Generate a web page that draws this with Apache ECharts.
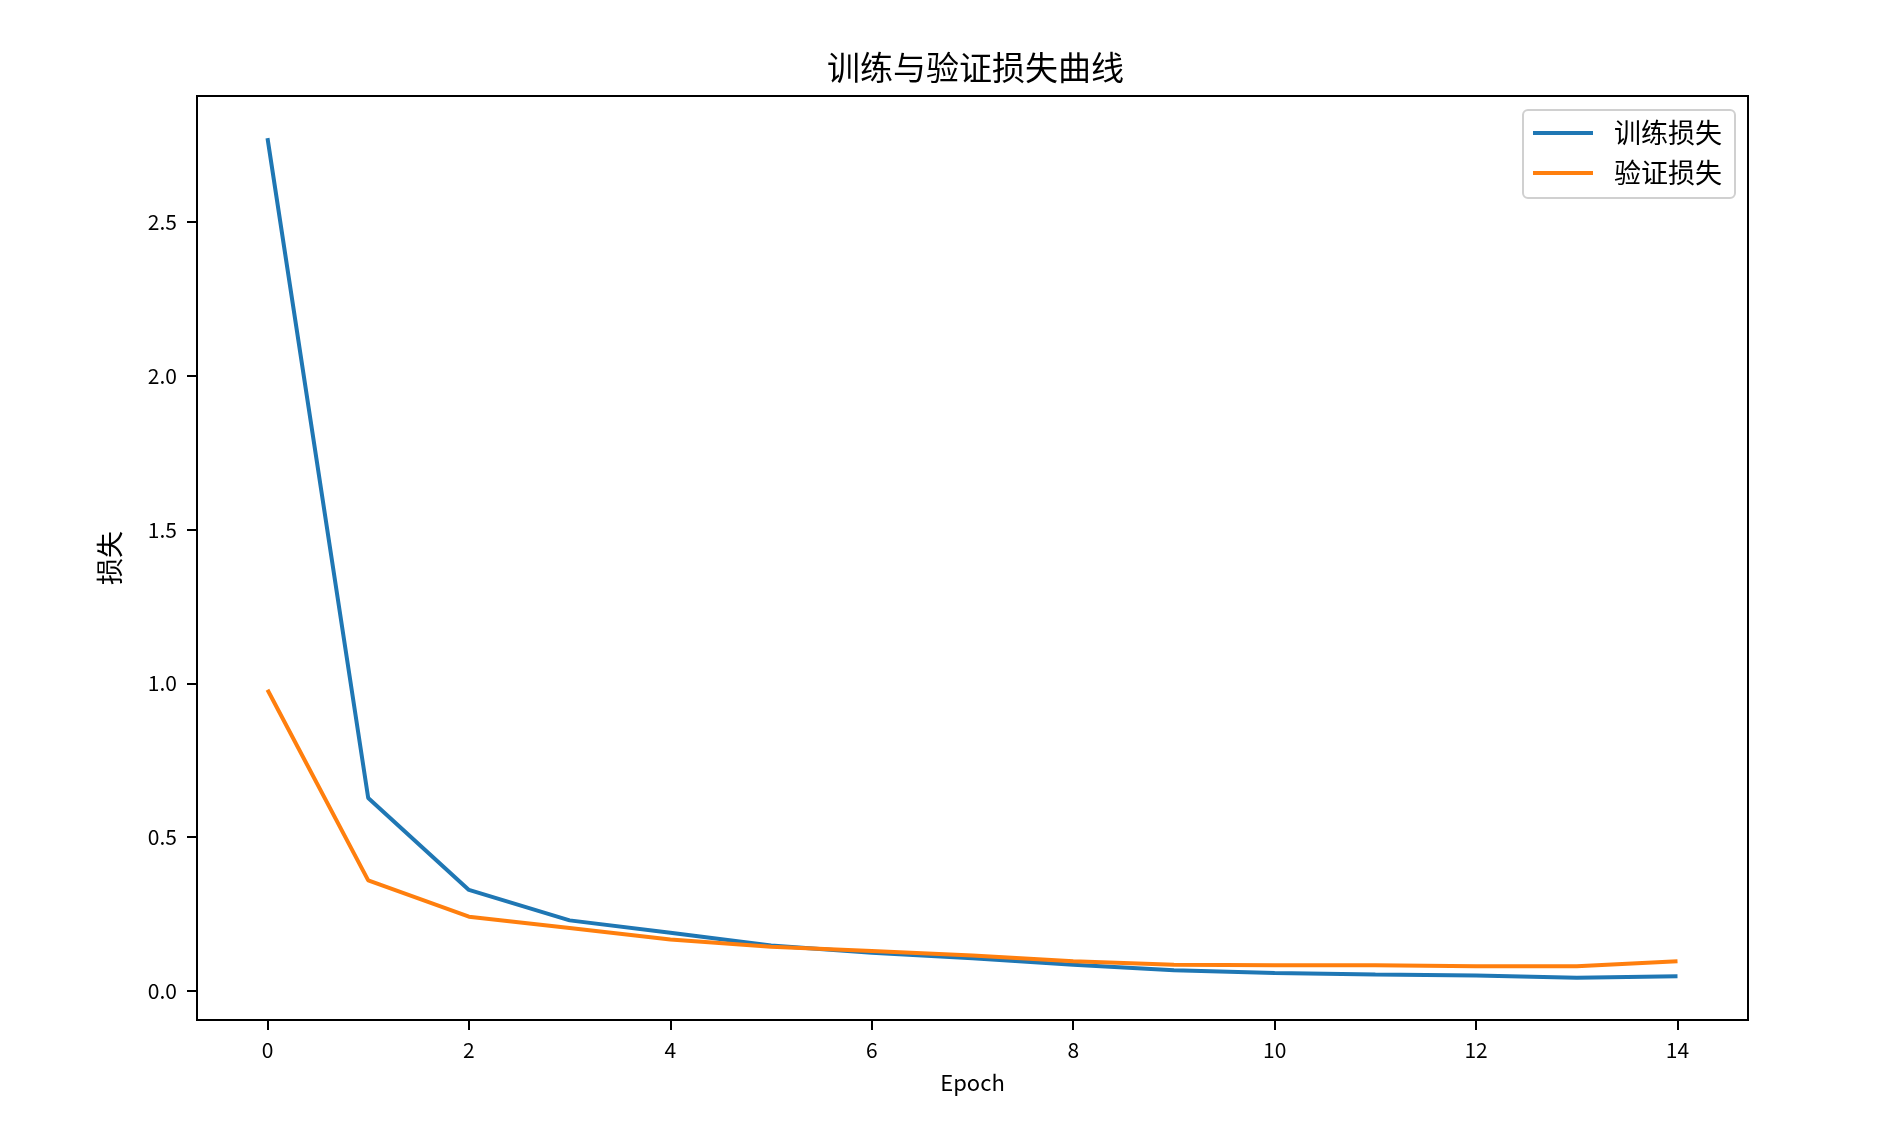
<!DOCTYPE html>
<html>
<head>
<meta charset="utf-8">
<script src="https://cdn.jsdelivr.net/npm/echarts@6/dist/echarts.min.js"></script>
<style>
html,body{margin:0;padding:0;background:#fff;}
#chart{width:1902px;height:1126px;}
</style>
</head>
<body>
<div id="chart"></div>
<script>
const epochs = [0,1,2,3,4,5,6,7,8,9,10,11,12,13,14];
const trainLoss = [2.773, 0.627, 0.328, 0.229, 0.189, 0.147, 0.124, 0.106, 0.085, 0.067, 0.058, 0.053, 0.050, 0.042, 0.047];
const valLoss = [0.979, 0.359, 0.241, 0.204, 0.167, 0.143, 0.129, 0.115, 0.096, 0.085, 0.083, 0.083, 0.080, 0.080, 0.096];
const xTicks = [0,2,4,6,8,10,12,14];
const yTicks = [0,0.5,1.0,1.5,2.0,2.5];
const seriesNames = ['训练损失','验证损失'];

const FONT = '"Noto Sans CJK SC", "Noto Sans", sans-serif';
const chart = echarts.init(document.getElementById('chart'), null, {renderer:'canvas'});

const toPairs = (ys) => epochs.map((e,i)=>[e, ys[i]]);

chart.setOption({
  backgroundColor:'#ffffff',
  animation:false,
  title:{
    text:'训练与验证损失曲线',
    left:822, top:46,
    textStyle:{fontFamily:FONT, fontSize:33, fontWeight:'normal', color:'#000'}
  },
  grid:{
    left:197, right:154, top:96, bottom:106,
    show:true, borderColor:'#000', borderWidth:2, backgroundColor:'transparent'
  },
  legend:{
    orient:'vertical',
    right:167, top:110,
    icon:'rect',
    itemWidth:60, itemHeight:4, itemGap:12,
    padding:[9,13,11,10],
    backgroundColor:'rgba(255,255,255,0.8)',
    borderColor:'#d0d0d0', borderWidth:2, borderRadius:5,
    textStyle:{fontFamily:FONT, fontSize:27, color:'#000', lineHeight:28, padding:[0,0,0,16]},
    data:seriesNames
  },
  xAxis:{
    type:'value', min:-0.7, max:14.7,
    name:'Epoch', nameLocation:'middle', nameGap:52,
    nameTextStyle:{fontFamily:FONT, fontSize:22, color:'#000'},
    axisLine:{show:true, onZero:false, lineStyle:{color:'#000', width:2}},
    axisTick:{show:true, inside:false, length:10, lineStyle:{color:'#000', width:2}, customValues:xTicks},
    axisLabel:{show:true, margin:20, fontFamily:FONT, fontSize:21, color:'#000', customValues:xTicks, formatter:(v)=>String(v)},
    splitLine:{show:false}
  },
  yAxis:{
    type:'value', min:-0.095, max:2.91,
    name:'损失', nameLocation:'middle', nameGap:74, nameRotate:90,
    nameTextStyle:{fontFamily:FONT, fontSize:27, color:'#000'},
    axisLine:{show:true, onZero:false, lineStyle:{color:'#000', width:2}},
    axisTick:{show:true, inside:false, length:10, lineStyle:{color:'#000', width:2}, customValues:yTicks},
    axisLabel:{show:true, margin:20, fontFamily:FONT, fontSize:21, color:'#000', customValues:yTicks, formatter:(v)=>v.toFixed(1)},
    splitLine:{show:false}
  },
  series:[
    {name:seriesNames[0], type:'line', data:toPairs(trainLoss), symbol:'none', showSymbol:false,
     lineStyle:{color:'#1f77b4', width:4}, itemStyle:{color:'#1f77b4'}},
    {name:seriesNames[1], type:'line', data:toPairs(valLoss), symbol:'none', showSymbol:false,
     lineStyle:{color:'#ff7f0e', width:4}, itemStyle:{color:'#ff7f0e'}}
  ]
});
</script>
</body>
</html>
